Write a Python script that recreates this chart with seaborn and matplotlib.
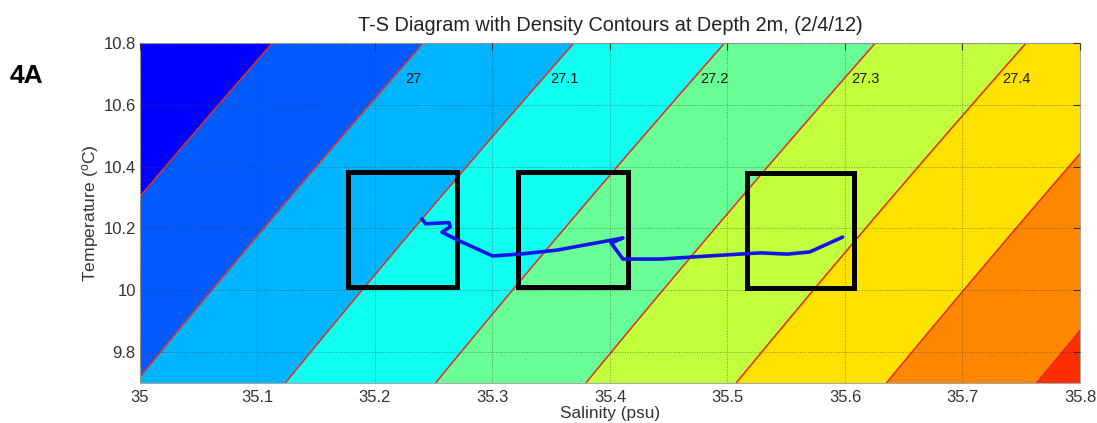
import numpy as np
import pandas as pd
import matplotlib
matplotlib.use("Agg")
import matplotlib.pyplot as plt
import seaborn as sns
from matplotlib.colors import ListedColormap
from matplotlib.patches import Rectangle

# Style
sns.set_theme(style="white")
plt.rcParams['font.family'] = ['Liberation Sans', 'DejaVu Sans']
plt.rcParams['mathtext.fontset'] = 'custom'
plt.rcParams['mathtext.rm'] = 'Liberation Sans'
plt.rcParams['mathtext.it'] = 'Liberation Sans'

# T-S trace at 2 m depth
salinity = [35.240, 35.243, 35.263, 35.264, 35.257, 35.270, 35.300, 35.326,
            35.355, 35.411, 35.401, 35.411, 35.443, 35.484, 35.528, 35.551,
            35.570, 35.598]
temperature = [10.231, 10.215, 10.219, 10.205, 10.188, 10.163, 10.111, 10.118,
               10.130, 10.169, 10.153, 10.101, 10.101, 10.111, 10.121, 10.117,
               10.124, 10.172]

# density levels (sigma-t)
fill_levels = [26.8, 26.9, 27.0, 27.1, 27.2, 27.3, 27.4, 27.5, 27.6, 27.7]
line_levels = [26.9, 27.0, 27.1, 27.2, 27.3, 27.4, 27.5, 27.6]
label_levels = [27.0, 27.1, 27.2, 27.3, 27.4]

# highlighted boxes: salinity range and temperature range
box_sal = [(35.177, 35.270), (35.322, 35.415), (35.517, 35.608)]
box_temp = [(10.011, 10.383), (10.011, 10.383), (10.006, 10.378)]

xticks = [35, 35.1, 35.2, 35.3, 35.4, 35.5, 35.6, 35.7, 35.8]
xticklabels = ['35', '35.1', '35.2', '35.3', '35.4', '35.5', '35.6', '35.7', '35.8']
yticks = [9.8, 10.0, 10.2, 10.4, 10.6, 10.8]
yticklabels = ['9.8', '10', '10.2', '10.4', '10.6', '10.8']


def sigma_t(S, T):
    # UNESCO 1983 density at surface pressure, minus 1000
    rw = (999.842594 + 6.793952e-2 * T - 9.095290e-3 * T ** 2 + 1.001685e-4 * T ** 3
          - 1.120083e-6 * T ** 4 + 6.536332e-9 * T ** 5)
    a = 0.824493 - 4.0899e-3 * T + 7.6438e-5 * T ** 2 - 8.2467e-7 * T ** 3 + 5.3875e-9 * T ** 4
    b = -5.72466e-3 + 1.0227e-4 * T - 1.6546e-6 * T ** 2
    return rw + a * S + b * S ** 1.5 + 4.8314e-4 * S ** 2 - 1000


def matlab_jet(x):
    x = np.asarray(x)
    r = np.clip(1.5 - np.abs(4 * x - 3), 0, 1)
    g = np.clip(1.5 - np.abs(4 * x - 2), 0, 1)
    b = np.clip(1.5 - np.abs(4 * x - 1), 0, 1)
    return np.column_stack([r, g, b])


s_grid = np.linspace(35, 35.8, 400)
t_grid = np.linspace(9.7, 10.8, 300)
SS, TT = np.meshgrid(s_grid, t_grid)
dens = sigma_t(SS, TT)

band_cmap = ListedColormap(matlab_jet(np.linspace(0.125, 0.83, len(fill_levels) - 1)))

fig = plt.figure(figsize=(10.97, 4.23), dpi=100)
ax = fig.add_axes([0.1276, 0.0946, 0.8569, 0.8037])

ax.contourf(SS, TT, dens, levels=fill_levels, cmap=band_cmap, zorder=1)
ax.contour(SS, TT, dens, levels=line_levels, colors='#e62a22', linewidths=1.1, zorder=2)

# contour labels near the top of the plot, just right of each line
t_lab = 10.685
row = sigma_t(s_grid, t_lab)
for lev in label_levels:
    s_lab = np.interp(lev, row, s_grid) + 0.018
    ax.text(s_lab, t_lab, f'{lev:g}', fontsize=10.5, color='#1a1a1a',
            ha='center', va='center', zorder=4)

# boxes
for (s0, s1), (t0, t1) in zip(box_sal, box_temp):
    ax.add_patch(Rectangle((s0, t0), s1 - s0, t1 - t0, fill=False,
                           edgecolor='black', linewidth=3.6, zorder=5))

# T-S trace
trace = pd.DataFrame({'Salinity': salinity, 'Temperature': temperature})
sns.lineplot(data=trace, x='Salinity', y='Temperature', sort=False, estimator=None,
             color='#1414e6', linewidth=2.6, ax=ax, zorder=6)

ax.set_xlim(35, 35.8)
ax.set_ylim(9.7, 10.8)
ax.set_xticks(xticks)
ax.set_xticklabels(xticklabels)
ax.set_yticks(yticks)
ax.set_yticklabels(yticklabels)
ax.tick_params(direction='in', length=5, width=0.8, color='#333333',
               top=True, right=True, labelsize=12, labelcolor='#333333', pad=3)
ax.tick_params(axis='x', pad=5)
ax.set_axisbelow(False)
ax.grid(True, linestyle=':', color='#444444', linewidth=0.7, alpha=0.6)
for sp in ax.spines.values():
    sp.set_color('#aaaaaa')
    sp.set_linewidth(0.8)

ax.set_title('T-S Diagram with Density Contours at Depth 2m, (2/4/12)',
             fontsize=14.3, color='#222222', pad=9)
ax.set_xlabel('Salinity (psu)', fontsize=12.4, color='#333333', labelpad=0.5)
ax.set_ylabel(r'Temperature ($^{\rm o}$C)', fontsize=12.6, color='#333333', labelpad=2)

fig.text(26 / 1097, 1 - 76 / 423, '4A', fontsize=19, fontweight='bold',
         color='black', ha='center', va='center')

fig.savefig('out.png', dpi=100)
